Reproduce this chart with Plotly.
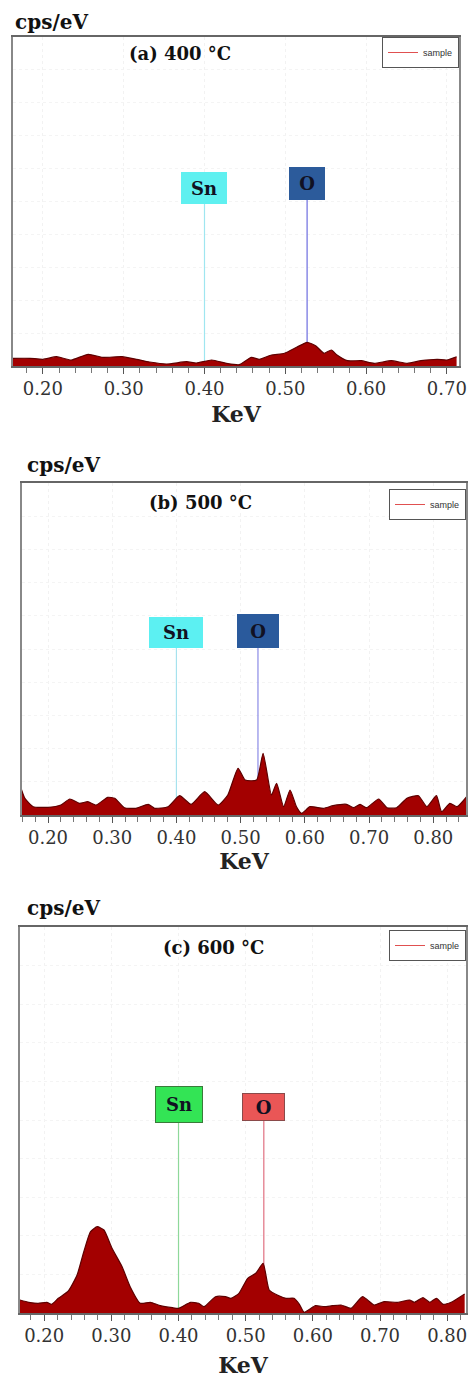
import plotly.graph_objects as go

# ---------------- data (keV, cps/eV) ----------------
energy_a = [0.163, 0.184, 0.200, 0.217, 0.235, 0.256, 0.274, 0.298, 0.316, 0.332, 0.353, 0.378,
            0.390, 0.409, 0.427, 0.443, 0.458, 0.468, 0.483, 0.499, 0.514, 0.527, 0.538, 0.548,
            0.557, 0.564, 0.577, 0.594, 0.610, 0.631, 0.651, 0.668, 0.688, 0.700, 0.712]
counts_a = [0.77, 0.77, 0.67, 0.93, 0.60, 1.17, 0.87, 0.93, 0.67, 0.40, 0.20, 0.43,
            0.30, 0.60, 0.27, 0.13, 0.87, 0.67, 1.10, 1.27, 1.87, 2.37, 2.00, 1.27,
            1.60, 1.10, 0.53, 0.53, 0.27, 0.53, 0.27, 0.53, 0.67, 0.60, 0.93]

energy_b = [0.158, 0.164, 0.177, 0.200, 0.220, 0.234, 0.249, 0.262, 0.275, 0.293, 0.304, 0.319,
            0.337, 0.356, 0.366, 0.387, 0.405, 0.423, 0.444, 0.465, 0.480, 0.496, 0.507, 0.525,
            0.535, 0.548, 0.556, 0.567, 0.577, 0.587, 0.595, 0.608, 0.629, 0.644, 0.665, 0.676,
            0.686, 0.696, 0.715, 0.728, 0.743, 0.759, 0.777, 0.790, 0.805, 0.813, 0.826, 0.837, 0.852]
counts_b = [2.67, 1.67, 0.83, 0.77, 1.00, 1.60, 1.17, 1.33, 1.00, 1.77, 1.67, 0.73,
            0.67, 1.07, 0.67, 0.83, 1.93, 1.07, 2.33, 1.00, 2.00, 4.67, 3.50, 3.50,
            6.17, 2.00, 3.17, 0.83, 2.50, 0.83, 0.17, 0.83, 0.67, 0.93, 1.07, 0.73,
            1.07, 0.73, 1.60, 0.73, 0.73, 1.67, 1.93, 0.83, 1.93, 0.33, 1.17, 0.83, 1.83]

energy_c = [0.164, 0.177, 0.191, 0.204, 0.211, 0.221, 0.236, 0.249, 0.259, 0.269, 0.279, 0.289,
            0.301, 0.316, 0.328, 0.343, 0.358, 0.373, 0.391, 0.400, 0.418, 0.430, 0.438, 0.455,
            0.470, 0.478, 0.490, 0.503, 0.515, 0.526, 0.535, 0.547, 0.560, 0.572, 0.580, 0.587,
            0.604, 0.617, 0.629, 0.642, 0.657, 0.674, 0.691, 0.706, 0.726, 0.744, 0.751, 0.764,
            0.774, 0.784, 0.794, 0.806, 0.826]
counts_c = [1.30, 1.07, 0.97, 1.07, 0.87, 1.47, 2.20, 3.80, 6.13, 8.13, 8.63, 8.30,
            6.47, 4.63, 2.63, 0.97, 1.07, 0.73, 0.53, 0.47, 1.07, 0.97, 0.63, 1.63,
            1.63, 1.47, 1.97, 3.47, 3.97, 4.97, 2.30, 1.80, 1.47, 1.47, 0.87, 0.07,
            0.73, 0.63, 0.73, 0.80, 0.47, 1.63, 0.80, 1.13, 1.07, 1.30, 1.07, 1.53,
            1.07, 1.47, 0.87, 1.07, 1.90]

line_energy = {"Sn": 0.40, "O": 0.527}
panel_titles = ["(a) 400 °C", "(b) 500 °C", "(c) 600 °C"]
tick_values = [0.2, 0.3, 0.4, 0.5, 0.6, 0.7, 0.8]
tick_labels = ["0.20", "0.30", "0.40", "0.50", "0.60", "0.70", "0.80"]

W, H = 474, 1379
SERIF = "DejaVu Serif"

def px(v):  # page pixel (from left) -> paper
    return v / W

def py(v):  # page pixel (from top) -> paper
    return 1 - v / H

panels = [
    dict(e=energy_a, c=counts_a, xr=[0.163, 0.715], yr=[0, 32.9],
         box=(13, 459, 37, 366), standoff=8,
         sn=dict(y=17.8, top=16.3, w=44, h=30, bg="#5ff0f0", bd="#5ff0f0", lc="#9fe6f0"),
         o=dict(y=18.25, top=16.7, w=34, h=31, bg="#2c5b9b", bd="#2c5b9b", lc="#6d6de0"),
         title=(180, 53), cps=(13, 22), leg=(459, 37)),
    dict(e=energy_b, c=counts_b, xr=[0.1595, 0.851], yr=[0, 33.2],
         box=(22, 466, 483, 815), standoff=6,
         sn=dict(y=18.25, top=16.8, w=52, h=29, bg="#5cf0f2", bd="#5cf0f2", lc="#a6e2ee"),
         o=dict(y=18.4, top=16.8, w=40, h=32, bg="#2a5a9c", bd="#2a5a9c", lc="#8a8ae6"),
         title=(200, 502), cps=(25, 465), leg=(466, 489)),
    dict(e=energy_c, c=counts_c, xr=[0.164, 0.828], yr=[0, 38.6],
         box=(20, 466, 927, 1313), standoff=12,
         sn=dict(y=20.85, top=19.1, w=46, h=35, bg="#33e455", bd="#3a7a3a", lc="#8ed89a"),
         o=dict(y=20.6, top=19.3, w=41, h=26, bg="#ea5656", bd="#8a4a4a", lc="#e07080"),
         title=(213, 947), cps=(25, 908), leg=(466, 930)),
]

fig = go.Figure()
annotations = []
layout = dict(width=W, height=H, margin=dict(l=0, r=0, t=0, b=0, autoexpand=False),
              paper_bgcolor="white", plot_bgcolor="white", showlegend=True)

for i, p in enumerate(panels, start=1):
    xa = "x" if i == 1 else f"x{i}"
    ya = "y" if i == 1 else f"y{i}"
    leg = "legend" if i == 1 else f"legend{i}"
    l, r, t, b = p["box"]

    for name in ("Sn", "O"):
        s = p["sn"] if name == "Sn" else p["o"]
        fig.add_trace(go.Scatter(x=[line_energy[name], line_energy[name]], y=[0, s["top"]],
                                 mode="lines", line=dict(color=s["lc"], width=1.2),
                                 xaxis=xa, yaxis=ya, showlegend=False, hoverinfo="skip"))
        annotations.append(dict(x=line_energy[name], y=s["y"], xref=xa, yref=ya,
                                text=f"<b>{name}</b>", showarrow=False,
                                xanchor="center", yanchor="middle",
                                width=s["w"], height=s["h"], bgcolor=s["bg"],
                                bordercolor=s["bd"], borderwidth=1, borderpad=0,
                                font=dict(family=SERIF, size=18, color="#111122")))

    fig.add_trace(go.Scatter(x=p["e"], y=p["c"], mode="lines", fill="tozeroy",
                             fillcolor="#a30000",
                             line=dict(color="#5e0000", width=1.2, shape="spline", smoothing=0.5),
                             xaxis=xa, yaxis=ya, showlegend=False, name="sample"))
    fig.add_trace(go.Scatter(x=[None], y=[None], mode="lines", name="sample",
                             line=dict(color="#e05050", width=1),
                             xaxis=xa, yaxis=ya, legend=leg, showlegend=True))

    layout[f"xaxis{'' if i == 1 else i}"] = dict(
        domain=[px(l), px(r)], range=p["xr"], anchor=ya,
        tickvals=tick_values, ticktext=tick_labels,
        ticks="outside", ticklen=6, tickcolor="#555", tickwidth=1,
        minor=dict(dtick=0.02, tick0=0, ticks="outside", ticklen=5, tickcolor="#777", showgrid=False),
        showline=True, linecolor="#666", linewidth=1.5, mirror=True,
        showgrid=True, gridcolor="#f2f2f2", griddash="dot",
        tickfont=dict(family=SERIF, size=18, color="#333"),
        title=dict(text="<b>KeV</b>", font=dict(family=SERIF, size=22, color="#222"),
                   standoff=p["standoff"]),
        zeroline=False, automargin=False, fixedrange=True)
    layout[f"yaxis{'' if i == 1 else i}"] = dict(
        domain=[py(b), py(t)], range=p["yr"], anchor=xa,
        showticklabels=False, ticks="", dtick=p["yr"][1] / 10,
        showline=True, linecolor="#888", linewidth=1.5, mirror=True,
        showgrid=True, gridcolor="#f4f4f4", griddash="dot",
        zeroline=False, automargin=False, fixedrange=True)

    layout[leg] = dict(x=px(p["leg"][0]), y=py(p["leg"][1]), xanchor="right", yanchor="top",
                       bgcolor="white", bordercolor="#555", borderwidth=1,
                       font=dict(family="Liberation Sans", size=9, color="#333"),
                       itemwidth=30, tracegroupgap=0)

    annotations.append(dict(x=px(p["title"][0]), y=py(p["title"][1]), xref="paper", yref="paper",
                            text=f"<b>{panel_titles[i-1]}</b>", showarrow=False,
                            xanchor="center", yanchor="middle",
                            font=dict(family=SERIF, size=18, color="#111")))
    annotations.append(dict(x=px(p["cps"][0]), y=py(p["cps"][1]), xref="paper", yref="paper",
                            text="<b>cps/eV</b>", showarrow=False,
                            xanchor="left", yanchor="middle",
                            font=dict(family=SERIF, size=20, color="#111")))

layout["annotations"] = annotations
fig.update_layout(**layout)
fig.write_html("out.html", config={"displayModeBar": False},
               post_script="document.body.style.margin='0';document.body.style.overflow='hidden';"
                           "document.documentElement.style.overflow='hidden';")
